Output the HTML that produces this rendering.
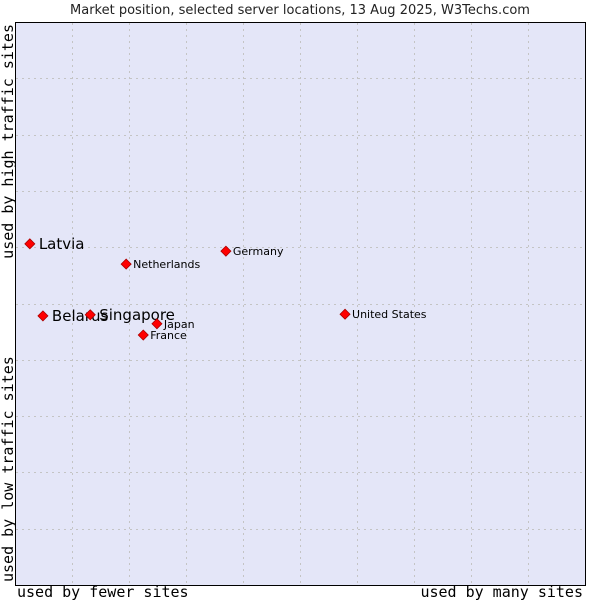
<!DOCTYPE html>
<html><head><meta charset="utf-8"><style>
body{margin:0;background:#fff;width:600px;height:600px;overflow:hidden}
svg text{font-family:"DejaVu Sans","Liberation Sans",sans-serif}
.mono{font-family:"DejaVu Sans Mono","Liberation Mono",monospace}
</style></head><body>
<svg id="chart" width="600" height="600" viewBox="0 0 600 600" xmlns="http://www.w3.org/2000/svg">
<text x="300" y="14" text-anchor="middle" font-size="13" fill="#222">Market position, selected server locations, 13 Aug 2025, W3Techs.com</text>
<rect x="15.5" y="22.5" width="570" height="563" fill="#e4e6f8" stroke="#000" stroke-width="1"/>
<g id="grid"></g>
<g id="points"></g>
<text class="mono" x="17" y="597" font-size="15" fill="#000">used by fewer sites</text>
<text class="mono" x="583" y="597" text-anchor="end" font-size="15" fill="#000">used by many sites</text>
<text class="mono" transform="translate(13,24) rotate(-90)" text-anchor="end" font-size="15" fill="#000">used by high traffic sites</text>
<text class="mono" transform="translate(13,582) rotate(-90)" font-size="15" fill="#000">used by low traffic sites</text>
</svg>
<script>
const names=["Latvia","Belarus","Singapore","Netherlands","Germany","Japan","France","United States"];
const xValues=[2.6,4.9,13.2,19.5,37.0,24.9,22.5,57.9];
const yValues=[60.6,47.8,48.0,57.0,59.3,46.4,44.4,48.1];
const bigLabel=[true,true,true,false,false,false,false,false];
const X0=15,X1=585,Y0=585,Y1=22;
const sx=v=>X0+v/100*(X1-X0);
const sy=v=>Y0-v/100*(Y0-Y1);
const NS="http://www.w3.org/2000/svg";
const grid=document.getElementById('grid');
for(let i=1;i<10;i++){
 const l=document.createElementNS(NS,'line');
 
 
 const x=Math.round(sx(i*10))+0.5;
 l.setAttribute('x1',x);l.setAttribute('x2',x);l.setAttribute('y1',Y1+1);l.setAttribute('y2',Y0);
 l.setAttribute('stroke','#c4c4c4');l.setAttribute('stroke-dasharray','2,4');grid.appendChild(l);
 const h=document.createElementNS(NS,'line');
 
 
 const y=Math.round(sy(i*10))+0.5;
 h.setAttribute('x1',X0+1);h.setAttribute('x2',X1);h.setAttribute('y1',y);h.setAttribute('y2',y);
 h.setAttribute('stroke','#c4c4c4');h.setAttribute('stroke-dasharray','2,4');grid.appendChild(h);
}
const pts=document.getElementById('points');
names.forEach((n,i)=>{
 const x=sx(xValues[i]),y=sy(yValues[i]);
 const p=document.createElementNS(NS,'polygon');
 
 
 p.setAttribute('points',`${x},${y-5} ${x+5},${y} ${x},${y+5} ${x-5},${y}`);
 p.setAttribute('fill','#f00');p.setAttribute('stroke','#a00');p.setAttribute('stroke-width','0.8');
 pts.appendChild(p);
 const t=document.createElementNS(NS,'text');
 
 
 const big=bigLabel[i];
 t.setAttribute('x',x+(big?9:7));t.setAttribute('y',y+(big?5:4));
 t.setAttribute('font-size',big?15:11);t.setAttribute('fill','#000');
 t.textContent=n;pts.appendChild(t);
});
</script>
</body></html>
